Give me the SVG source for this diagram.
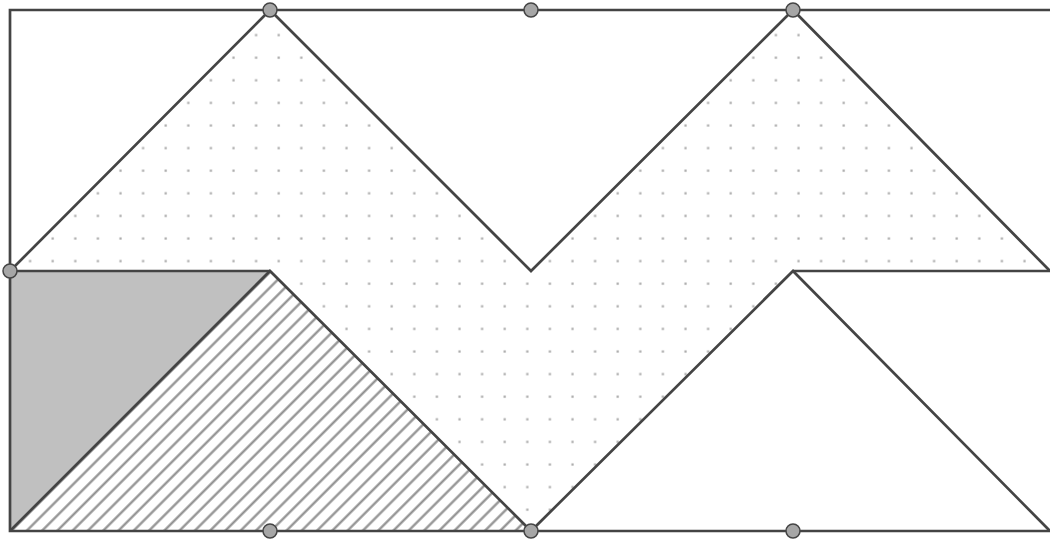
<svg xmlns="http://www.w3.org/2000/svg" width="1050" height="540" viewBox="0 0 1050 540">
<style>
.edge{stroke:#444;stroke-width:2.7;fill:none;stroke-linejoin:miter}
.pt{fill:#a6a6a6;stroke:#444;stroke-width:1.5}
</style>
<defs>
<pattern id="dots" patternUnits="userSpaceOnUse" x="18.7" y="23.7" width="22.6" height="22.6">
<rect x="10.3" y="10.3" width="2.2" height="2.2" fill="#a8a8a8"/>
</pattern>
<pattern id="hatch" patternUnits="userSpaceOnUse" width="10.8" height="10.8" patternTransform="rotate(-45)">
<line x1="0" y1="5.4" x2="10.8" y2="5.4" stroke="#8c8c8c" stroke-width="2.2"/>
</pattern>
</defs>
<rect width="1050" height="540" fill="#fff"/>
<g id="dotted">
<polygon points="10,271 270,10 531,271 793,10 1050,271 793,271 531,531 270,271" fill="url(#dots)"/>
</g>
<g id="gray-triangle">
<polygon points="10,271 270,271 10,531" fill="#c0c0c0"/>
</g>
<g id="hatched-triangle">
<polygon points="10,531 270,271 531,531" fill="url(#hatch)"/>
</g>
<g id="connectors">
<polyline class="edge" points="1050,10 10,10 10,531 1050,531"/>
<polyline class="edge" points="10,271 270,10 531,271 793,10 1050,271"/>
<line class="edge" x1="10" y1="271" x2="270" y2="271"/>
<line class="edge" x1="793" y1="271" x2="1050" y2="271"/>
<polyline class="edge" points="10,531 270,271 531,531 793,271 1050,531"/>
</g>
<g id="points">
<circle class="pt" cx="270" cy="10" r="7"/>
<circle class="pt" cx="531" cy="10" r="7"/>
<circle class="pt" cx="793" cy="10" r="7"/>
<circle class="pt" cx="10" cy="271" r="7"/>
<circle class="pt" cx="270" cy="531" r="7"/>
<circle class="pt" cx="531" cy="531" r="7"/>
<circle class="pt" cx="793" cy="531" r="7"/>
</g>
</svg>
